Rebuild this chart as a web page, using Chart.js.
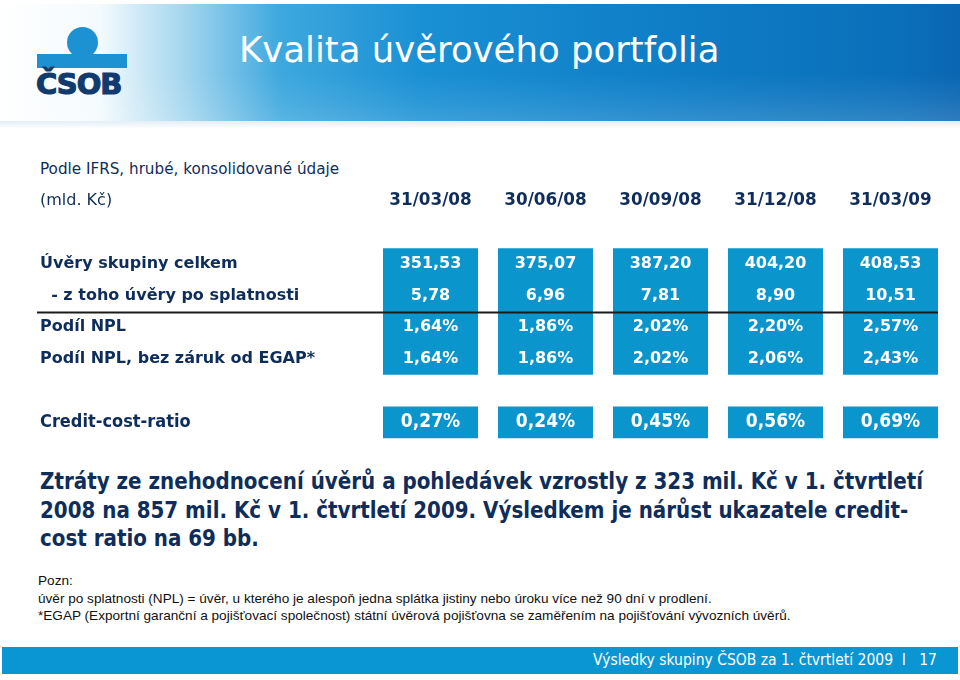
<!DOCTYPE html>
<html>
<head>
<meta charset="utf-8">
<script src="https://cdn.jsdelivr.net/npm/chart.js@4"></script>
<style>
  body { margin: 0; width: 960px; height: 680px; position: relative; background: #fff; overflow: hidden; font-family: "DejaVu Sans", Verdana, sans-serif; color: #0f2d5b; }
  .header { position: absolute; left: 0; top: 4px; width: 960px; height: 117px;
    background: linear-gradient(90deg, #ffffff 0px, #f4fafd 100px, #a8d8ef 180px, #3ea8de 280px, #1a90d4 420px, #0f7fc8 650px, #0b6fba 900px, #0a66b2 960px); }
  .header .sheen { position: absolute; left: 0; right: 0; top: 70px; height: 47px;
    background: linear-gradient(180deg, rgba(255,255,255,0) 0%, rgba(255,255,255,0.08) 60%, rgba(255,255,255,0.15) 100%); }
  .shadow { position: absolute; left: 0; top: 121px; width: 960px; height: 8px; background: linear-gradient(180deg, #e3eef5, #ffffff); }
  .title { position: absolute; left: 239px; top: 29px; font-size: 35.5px; color: #fff; white-space: nowrap; }
  .logo-dot { position: absolute; left: 67px; top: 27px; width: 31px; height: 31px; border-radius: 50%; background: #1c92d2; }
  .logo-bar { position: absolute; left: 37px; top: 54px; width: 90px; height: 14px; background: #1c92d2; }
  .logo-text { position: absolute; left: 36px; top: 67px; font-size: 29px; font-weight: bold; color: #123b6d; letter-spacing: -1px; -webkit-text-stroke: 1.2px #123b6d; }
  .sub { position: absolute; left: 40px; top: 160px; font-size: 15.2px; }
  .para { position: absolute; left: 40px; top: 467px; font-family: "DejaVu Sans Condensed", "DejaVu Sans", sans-serif; font-weight: bold; font-size: 22.1px; line-height: 28.5px; white-space: nowrap; }
  .note { position: absolute; left: 38px; top: 572px; font-family: "Liberation Sans", Arial, sans-serif; font-size: 13.6px; line-height: 17.5px; color: #111; white-space: nowrap; }
  .footer { position: absolute; left: 2px; top: 647px; width: 956px; height: 27px; background: #0a96d2; }
  .footer span { position: absolute; right: 21px; top: 4px; color: #fff; font-family: "DejaVu Sans Condensed", "DejaVu Sans", sans-serif; font-size: 15.5px; white-space: nowrap; }
  #chart { position: absolute; left: 0; top: 0; }
</style>
</head>
<body>
<div class="header"><div class="sheen"></div></div>
<div class="shadow"></div>
<div class="logo-dot"></div>
<div class="logo-bar"></div>
<div class="logo-text">ČSOB</div>
<div class="title">Kvalita úvěrového portfolia</div>
<div class="sub">Podle IFRS, hrubé, konsolidované údaje</div>
<div class="para">Ztráty ze znehodnocení úvěrů a pohledávek vzrostly z 323 mil. Kč v 1. čtvrtletí<br>2008 na 857 mil. Kč v 1. čtvrtletí 2009. Výsledkem je nárůst ukazatele credit-<br>cost ratio na 69 bb.</div>
<div class="note">Pozn:<br>úvěr po splatnosti (NPL) = úvěr, u kterého je alespoň jedna splátka jistiny nebo úroku více než 90 dní v prodlení.<br>*EGAP (Exportní garanční a pojišťovací společnost) státní úvěrová pojišťovna se zaměřením na pojišťování vývozních úvěrů.</div>
<div class="footer"><span>Výsledky skupiny ČSOB za 1. čtvrtletí 2009 &nbsp;I &nbsp;&nbsp;17</span></div>
<canvas id="chart" width="960" height="680"></canvas>
<script>
const dates = ["31/03/08", "30/06/08", "30/09/08", "31/12/08", "31/03/09"];
const rowLabels = ["Úvěry skupiny celkem", "  - z toho úvěry po splatnosti", "Podíl NPL", "Podíl NPL, bez záruk od EGAP*"];
const loansTotal = [351.53, 375.07, 387.20, 404.20, 408.53];
const loansOverdue = [5.78, 6.96, 7.81, 8.90, 10.51];
const nplShare = [1.64, 1.86, 2.02, 2.20, 2.57];
const nplShareExEgap = [1.64, 1.86, 2.02, 2.06, 2.43];
const creditCostLabel = "Credit-cost-ratio";
const creditCostRatio = [0.27, 0.24, 0.45, 0.56, 0.69];

// row index of each line in the table (y scale units)
const headerRow = -2;
const creditRow = 5;

let fmt = function (v, pct) {
  return v.toFixed(2).replace(".", ",") + (pct ? "%" : "");
};

let tableRows = [
  { values: loansTotal, pct: false },
  { values: loansOverdue, pct: false },
  { values: nplShare, pct: true },
  { values: nplShareExEgap, pct: true },
];

let tableText = {
  id: "tableText",
  afterDatasetsDraw: function (chart) {
    let ctx = chart.ctx;
    let x = chart.scales.x;
    let y = chart.scales.y;
    ctx.save();
    ctx.textBaseline = "middle";

    // column headers
    ctx.fillStyle = "#0f2d5b";
    ctx.textAlign = "left";
    ctx.font = "16px 'DejaVu Sans'";
    ctx.fillText("(mld. Kč)", 40, y.getPixelForValue(headerRow));
    ctx.font = "bold 16.8px 'DejaVu Sans'";
    ctx.textAlign = "center";
    dates.forEach(function (d, i) {
      ctx.fillText(d, x.getPixelForValue(i), y.getPixelForValue(headerRow));
    });

    // row labels and values
    tableRows.forEach(function (row, r) {
      let py = y.getPixelForValue(r);
      ctx.font = "bold 16px 'DejaVu Sans'";
      ctx.fillStyle = "#0f2d5b";
      ctx.textAlign = "left";
      ctx.fillText(rowLabels[r], 40, py);
      ctx.fillStyle = "#ffffff";
      ctx.textAlign = "center";
      row.values.forEach(function (v, i) {
        ctx.fillText(fmt(v, row.pct), x.getPixelForValue(i), py);
      });
    });

    // separator under overdue loans
    let ly = Math.round(y.getPixelForValue(1.5)) + 0.5;
    ctx.strokeStyle = "#1b1b1b";
    ctx.lineWidth = 2;
    ctx.beginPath();
    ctx.moveTo(37, ly);
    ctx.lineTo(chart.chartArea.right - 10, ly);
    ctx.stroke();

    // credit cost ratio row
    let cy = y.getPixelForValue(creditRow);
    ctx.font = "bold 18px 'DejaVu Sans Condensed'";
    ctx.fillStyle = "#0f2d5b";
    ctx.textAlign = "left";
    ctx.fillText(creditCostLabel, 40, cy);
    ctx.font = "bold 19px 'DejaVu Sans Condensed'";
    ctx.fillStyle = "#ffffff";
    ctx.textAlign = "center";
    creditCostRatio.forEach(function (v, i) {
      ctx.fillText(fmt(v, true), x.getPixelForValue(i), cy);
    });
    ctx.restore();
  },
};

window.onload = function () {
  let ctx = document.getElementById("chart").getContext("2d");
  new Chart(ctx, {
    type: "bar",
    data: {
      labels: dates,
      datasets: [
        {
          label: "table",
          data: dates.map(function () { return [-0.5, rowLabels.length - 0.5]; }),
          backgroundColor: "#0a96cd",
        },
        {
          label: creditCostLabel,
          data: creditCostRatio.map(function () { return [creditRow - 0.5, creditRow + 0.5]; }),
          backgroundColor: "#0a96cd",
        },
      ],
    },
    options: {
      responsive: false,
      animation: false,
      events: [],
      layout: { padding: { left: 373, right: 12, top: 169, bottom: 226 } },
      datasets: { bar: { grouped: false, barPercentage: 1, categoryPercentage: 0.826, borderWidth: 0, borderSkipped: false } },
      plugins: { legend: { display: false }, tooltip: { enabled: false } },
      scales: {
        x: { type: "category", display: false, offset: true },
        y: { type: "linear", display: false, reverse: true, min: -3, max: 6 },
      },
    },
    plugins: [tableText],
  });
};
</script>
</body>
</html>
